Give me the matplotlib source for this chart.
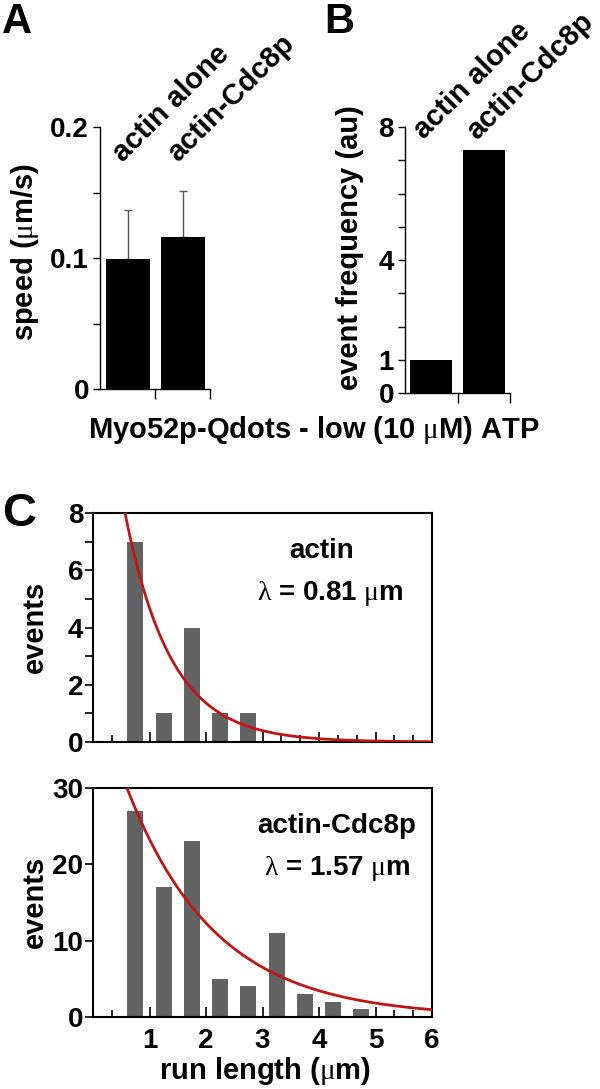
import numpy as np
import matplotlib
matplotlib.use("Agg")
import matplotlib.pyplot as plt
from matplotlib.ticker import FixedLocator

plt.rcParams['font.family'] = ['Liberation Sans', 'DejaVu Sans']
plt.rcParams['font.weight'] = 'bold'
# greek letters (lambda, mu) in a plain serif face, like the original figure
plt.rcParams['mathtext.fontset'] = 'custom'
plt.rcParams['mathtext.rm'] = 'Liberation Serif:weight=normal'
plt.rcParams['mathtext.it'] = 'Liberation Serif:italic:weight=normal'
plt.rcParams['mathtext.bf'] = 'Liberation Serif:bold'

# panel A / B data
conditions = ["actin alone", "actin-Cdc8p"]
speed = [0.099, 0.116]
speed_err = [0.038, 0.035]
freq = [1.0, 7.3]

# panel C data (histograms of run length)
bin_centers = [0.75, 1.25, 1.75, 2.25, 2.75, 3.25, 3.75, 4.25, 4.75]
actin_counts = [7, 1, 4, 1, 1]
cdc8_counts = [27, 17, 23, 5, 4, 11, 3, 2, 1]
lam_actin, amp_actin = 0.81, 16.1
lam_cdc8, amp_cdc8 = 1.57, 44.0
run_ticks = [1, 2, 3, 4, 5, 6]

W, H = 600, 1089
fig = plt.figure(figsize=(W / 100, H / 100), dpi=100)


def px_axes(l, t, r, b):
    return fig.add_axes([l / W, 1 - b / H, (r - l) / W, (b - t) / H])


def px_text(x, y, s, **kw):
    fig.text(x / W, 1 - y / H, s, **kw)


def bar_panel(ax, vals, ymax, ticks, minor, labels, lab_dx, lab_y):
    x = np.arange(len(vals))
    ax.bar(x, vals, width=0.8, color='black', zorder=2)
    ax.set_xlim(-0.5, 1.5)
    ax.set_ylim(0, ymax)
    for s in ['top', 'right']:
        ax.spines[s].set_visible(False)
    for s in ['left', 'bottom']:
        ax.spines[s].set_linewidth(1.0)
    ax.set_yticks(ticks)
    ax.yaxis.set_minor_locator(FixedLocator(minor))
    ax.set_xticks([0.5, 1.5])
    ax.set_xticklabels([])
    ax.tick_params(axis='y', which='both', length=5, width=1.0, labelsize=20, pad=3)
    ax.tick_params(axis='x', length=7, width=1.0)
    for i, lab in enumerate(labels):
        ax.text(i + lab_dx, lab_y, lab, transform=ax.get_xaxis_transform(),
                rotation=45, rotation_mode='anchor', ha='left', va='baseline',
                fontsize=21, fontweight='bold', clip_on=False)
    return x


# A: speed
axA = px_axes(100, 127, 210, 389)
xa = bar_panel(axA, speed, 0.2, [0, 0.1, 0.2], [0.05, 0.15], conditions, -0.08, 0.862)
axA.set_yticklabels(['0', '0.1', '0.2'])
axA.errorbar(xa, speed, yerr=[[0, 0], speed_err], fmt='none', ecolor='#555555',
             elinewidth=1.0, capsize=3, capthick=1.0, zorder=1)

# B: event frequency
axB = px_axes(405, 127, 510, 393)
bar_panel(axB, freq, 8, [0, 1, 4, 8], [2, 3, 5, 6, 7], conditions, -0.14, 0.95)

px_text(2, 2, 'A', fontsize=30, fontweight='bold', ha='left', va='top')
px_text(324, 2, 'B', fontsize=30, fontweight='bold', ha='left', va='top')
px_text(25, 252, r'speed ($\mathrm{\mu}$m/s)', fontsize=21, fontweight='bold',
        rotation=90, ha='center', va='center')
px_text(350, 248, 'event frequency (au)', fontsize=21, fontweight='bold',
        rotation=90, ha='center', va='center')
px_text(314, 430, r'Myo52p-Qdots - low (10 $\mathrm{\mu}$M) ATP', fontsize=21,
        fontweight='bold', ha='center', va='center')

# C: run length histograms
curve_x = np.linspace(0.5, 6, 300)


def hist_panel(ax, counts, amp, lam, ymax, ystep, name, name_x, lam_x, show_x):
    ax.bar(bin_centers[:len(counts)], counts, width=0.28, color='#636363', zorder=2)
    ax.plot(curve_x, amp * np.exp(-curve_x / lam), color='#bf1515', lw=2.0, zorder=3)
    ax.set_xlim(0, 6)
    ax.set_ylim(0, ymax)
    for s in ax.spines.values():
        s.set_linewidth(1.5)
    ax.set_yticks(np.arange(0, ymax + 1, ystep))
    ax.set_xticks(run_ticks)
    ax.xaxis.set_minor_locator(FixedLocator(np.arange(1, 18) / 3))
    ax.tick_params(axis='y', which='both', direction='out', length=6, width=1.2,
                   labelsize=20, pad=1)
    ax.tick_params(axis='x', which='major', direction='in', length=7, width=1.2,
                   labelsize=20, pad=8, labelbottom=show_x)
    ax.tick_params(axis='x', which='minor', direction='in', length=5, width=1.2)
    ax.text(name_x, 0.835, name, transform=ax.transAxes, ha='center', va='center',
            fontsize=20, fontweight='bold')
    ax.text(lam_x, 0.65, r'$\mathrm{\lambda}$ = %.2f $\mathrm{\mu}$m' % lam,
            transform=ax.transAxes, ha='center', va='center',
            fontsize=20, fontweight='bold')


axC1 = px_axes(93, 513, 432, 742)
hist_panel(axC1, actin_counts, amp_actin, lam_actin, 8, 2, 'actin', 0.675, 0.70, False)
axC1.yaxis.set_minor_locator(FixedLocator([1, 3, 5, 7]))
axC2 = px_axes(93, 788, 432, 1017)
hist_panel(axC2, cdc8_counts, amp_cdc8, lam_cdc8, 30, 10, 'actin-Cdc8p', 0.72, 0.72, True)

px_text(2, 492, 'C', fontsize=34, fontweight='bold', ha='left', va='top')
px_text(35, 627, 'events', fontsize=21, fontweight='bold', rotation=90,
        ha='center', va='center')
px_text(35, 902, 'events', fontsize=21, fontweight='bold', rotation=90,
        ha='center', va='center')
px_text(265, 1071, r'run length ($\mathrm{\mu}$m)', fontsize=21, fontweight='bold',
        ha='center', va='center')

fig.savefig('out.png', dpi=100)
